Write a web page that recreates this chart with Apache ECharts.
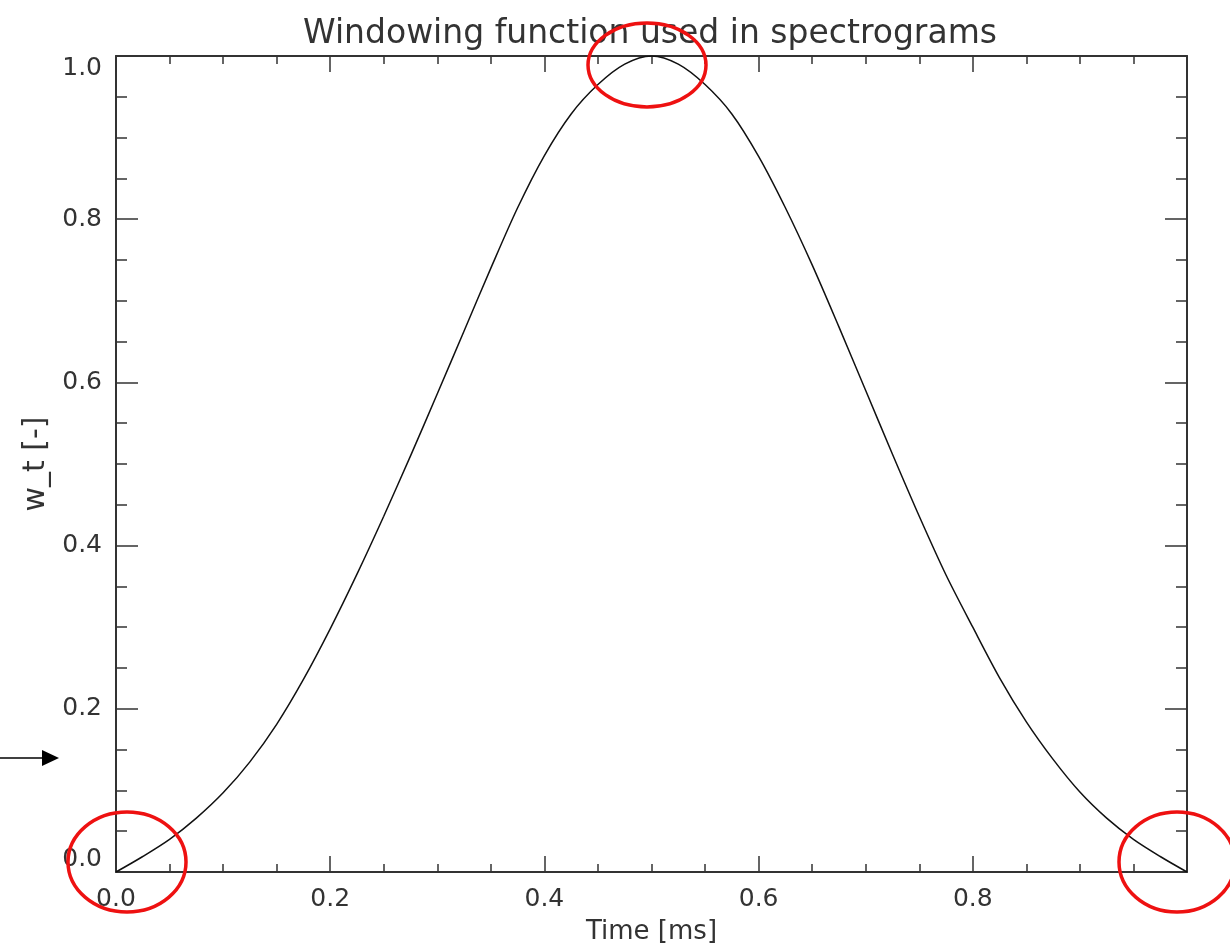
<!DOCTYPE html>
<html>
<head>
<meta charset="utf-8">
<title>Windowing function used in spectrograms</title>
<script src="https://cdn.jsdelivr.net/npm/echarts@6/dist/echarts.min.js"></script>
<style>
  html, body { margin: 0; padding: 0; background: #fff; }
  #main { width: 1230px; height: 947px; }
</style>
</head>
<body>
<div id="main"></div>
<script>
// values (time in ms, window weight)
var timeMs = [0, 0.025, 0.05, 0.075, 0.1, 0.125, 0.15, 0.175, 0.2, 0.225,
  0.25, 0.275, 0.3, 0.325, 0.35, 0.375, 0.4, 0.425, 0.45, 0.475,
  0.5, 0.525, 0.55, 0.575, 0.6, 0.625, 0.65, 0.675, 0.7, 0.725,
  0.75, 0.775, 0.8, 0.825, 0.85, 0.875, 0.9, 0.925, 0.95, 0.975, 1.0];
var windowVals = [0, 0.019, 0.040, 0.066, 0.097, 0.135, 0.181, 0.236, 0.298, 0.365,
  0.436, 0.510, 0.586, 0.663, 0.740, 0.814, 0.878, 0.929, 0.965, 0.990,
  1.0, 0.990, 0.965, 0.929, 0.877, 0.814, 0.744, 0.668, 0.590, 0.512,
  0.436, 0.364, 0.300, 0.238, 0.184, 0.138, 0.098, 0.066, 0.040, 0.019, 0];

var xTickLabels = ['0.0', '0.2', '0.4', '0.6', '0.8'];
var yTickLabels = ['0.0', '0.2', '0.4', '0.6', '0.8', '1.0'];

var FONT = 'DejaVu Sans';
var INK = '#333';

var myChart = echarts.init(document.getElementById('main'), null, { renderer: 'canvas' });

var frame = { show: true, onZero: false, lineStyle: { color: INK, width: 2 } };

function xAxisCfg(pos, showLabels) {
  return {
    type: 'value', position: pos, min: 0, max: 1, interval: 0.2,
    axisLine: frame,
    axisTick: { show: true, inside: true, length: 16, lineStyle: { color: INK, width: 1.5 } },
    minorTick: { show: true, splitNumber: 4, length: 8, lineStyle: { color: INK, width: 1.5 } },
    splitLine: { show: false },
    axisLabel: {
      show: showLabels, margin: 15, fontFamily: FONT, fontSize: 25, color: INK,
      formatter: function (v) { return xTickLabels[Math.round(v / 0.2)] || ''; }
    }
  };
}

function yAxisCfg(pos, showLabels) {
  return {
    type: 'value', position: pos, min: 0, max: 1, interval: 0.2,
    axisLine: frame,
    axisTick: { show: true, inside: true, length: 22, lineStyle: { color: INK, width: 1.5 } },
    minorTick: { show: true, splitNumber: 4, length: 11, lineStyle: { color: INK, width: 1.5 } },
    splitLine: { show: false },
    axisLabel: {
      show: showLabels, margin: 14, fontFamily: FONT, fontSize: 25, color: INK,
      verticalAlignMinLabel: 'bottom', verticalAlignMaxLabel: 'top',
      formatter: function (v) { return yTickLabels[Math.round(v / 0.2)] || ''; }
    }
  };
}

var xBottom = xAxisCfg('bottom', true);
xBottom.name = 'Time [ms]';
xBottom.nameLocation = 'middle';
xBottom.nameGap = 47;
xBottom.nameTextStyle = { fontFamily: FONT, fontSize: 26, color: INK };

var yLeft = yAxisCfg('left', true);
yLeft.name = 'w_t [-]';
yLeft.nameLocation = 'middle';
yLeft.nameGap = 64;
yLeft.nameTextStyle = { fontFamily: FONT, fontSize: 30, color: INK };

var option = {
  backgroundColor: '#fff',
  animation: false,
  title: {
    text: 'Windowing function used in spectrograms',
    left: 645, top: 13, textAlign: 'center',
    textStyle: { fontFamily: FONT, fontSize: 33, fontWeight: 'normal', color: INK }
  },
  grid: { left: 116, right: 43, top: 56, bottom: 75, outerBoundsMode: 'none', containLabel: false },
  xAxis: [xBottom, xAxisCfg('top', false)],
  yAxis: [yLeft, yAxisCfg('right', false)],
  series: [{
    type: 'line',
    xAxisIndex: 0, yAxisIndex: 0,
    data: timeMs.map(function (t, i) { return [t, windowVals[i]]; }),
    showSymbol: false,
    smooth: 0.3,
    lineStyle: { color: '#111', width: 1.5 }
  }],
  graphic: [
    // red hand-drawn markers and the arrow at the left edge
    { type: 'ellipse', shape: { cx: 647, cy: 65, rx: 59, ry: 42 },
      style: { fill: 'none', stroke: '#ee1111', lineWidth: 3.5 }, z: 100 },
    { type: 'ellipse', shape: { cx: 127, cy: 862, rx: 59, ry: 50 },
      style: { fill: 'none', stroke: '#ee1111', lineWidth: 3.5 }, z: 100 },
    { type: 'ellipse', shape: { cx: 1177, cy: 862, rx: 58, ry: 50 },
      style: { fill: 'none', stroke: '#ee1111', lineWidth: 3.5 }, z: 100 },
    { type: 'line', shape: { x1: 0, y1: 758, x2: 46, y2: 758 },
      style: { stroke: '#000', lineWidth: 1.5 }, z: 100 },
    { type: 'polygon', shape: { points: [[42, 750], [59, 758], [42, 766]] },
      style: { fill: '#000' }, z: 100 }
  ]
};

myChart.setOption(option);
</script>
</body>
</html>
